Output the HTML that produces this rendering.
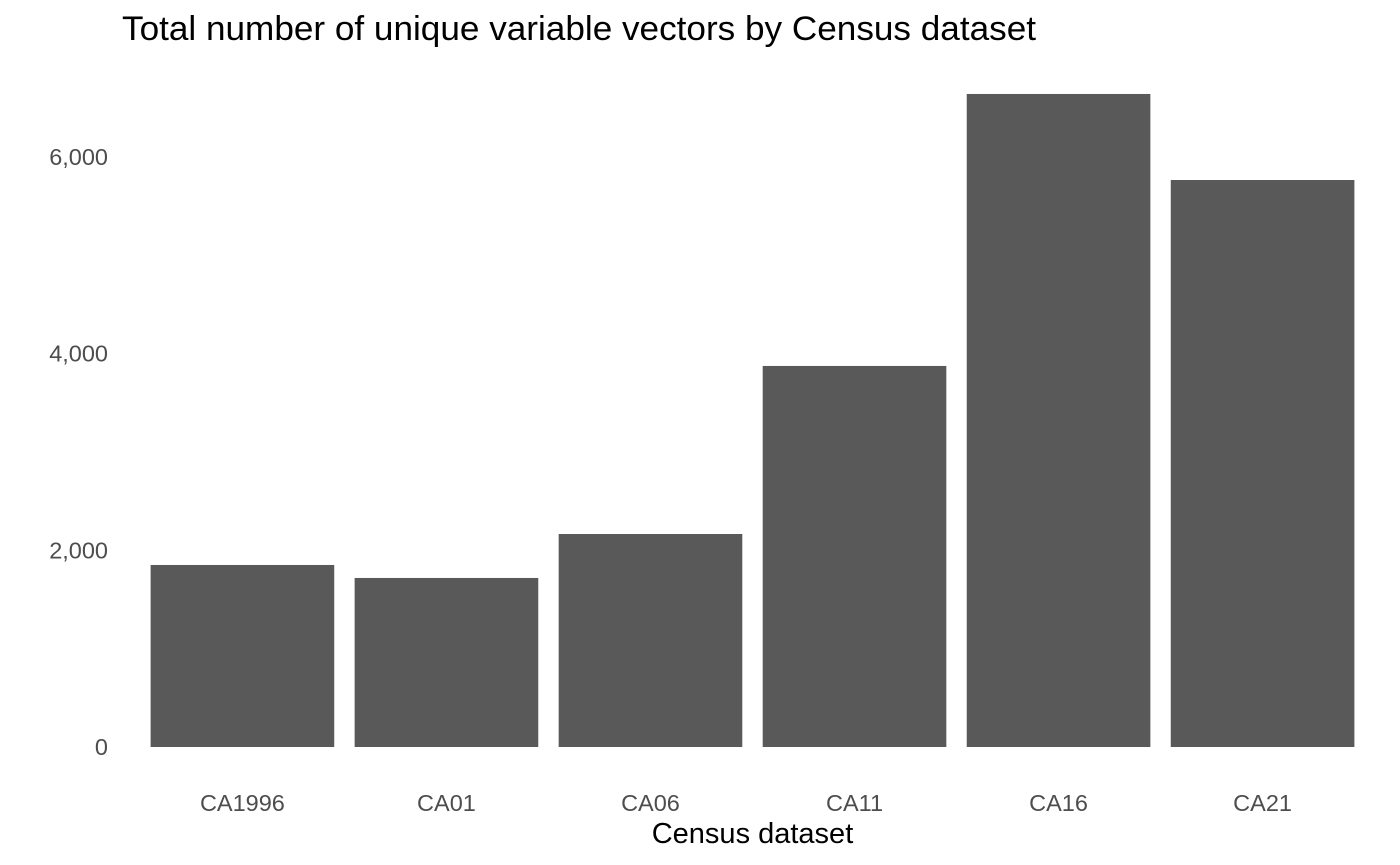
<!DOCTYPE html>
<html><head><meta charset="utf-8"><style>
html,body{margin:0;padding:0;background:#fff;}
svg{display:block;font-family:"Liberation Sans",Arial,sans-serif;}
</style></head><body>
<svg id="chart" width="1400" height="865" viewBox="0 0 1400 865">
<text x="122" y="40" font-size="34" fill="#000" textLength="914" lengthAdjust="spacingAndGlyphs">Total number of unique variable vectors by Census dataset</text>
<g id="yticks"></g>
<g id="bars"></g>
<g id="xticks"></g>
<text x="752.5" y="843" font-size="29" fill="#000" text-anchor="middle">Census dataset</text>
</svg>
<script>
const categories = ["CA1996","CA01","CA06","CA11","CA16","CA21"];
const values = [1851, 1719, 2166, 3875, 6641, 5766];
const yTicks = [0, 2000, 4000, 6000];
const yTickLabels = ["0","2,000","4,000","6,000"];

const NS = "http://www.w3.org/2000/svg";
const plotLeft = 120, plotRight = 1385;
const step = (plotRight - plotLeft) / (categories.length + 0.2);
function xCenter(i){ return plotLeft + step * (0.6 + i); }
function yScale(v){ return 747 - v * 0.098333; }

const yg = document.getElementById('yticks');
yTicks.forEach((t, i) => {
  const tx = document.createElementNS(NS, 'text');
  tx.setAttribute('x', 108);
  tx.setAttribute('y', yScale(t) + 8);
  tx.setAttribute('font-size', '23.5');
  tx.setAttribute('fill', '#4d4d4d');
  tx.setAttribute('text-anchor', 'end');
  tx.textContent = yTickLabels[i];
  
  
  yg.appendChild(tx);
});

const bg = document.getElementById('bars');
const xg = document.getElementById('xticks');
categories.forEach((c, i) => {
  const w = step * 0.9;
  const r = document.createElementNS(NS, 'rect');
  r.setAttribute('x', xCenter(i) - w / 2);
  r.setAttribute('y', yScale(values[i]));
  r.setAttribute('width', w);
  r.setAttribute('height', yScale(0) - yScale(values[i]));
  r.setAttribute('fill', '#595959');
  
  
  bg.appendChild(r);
  const tx = document.createElementNS(NS, 'text');
  tx.setAttribute('x', xCenter(i));
  tx.setAttribute('y', 811);
  tx.setAttribute('font-size', '23.5');
  tx.setAttribute('fill', '#4d4d4d');
  tx.setAttribute('text-anchor', 'middle');
  tx.textContent = c;
  
  
  xg.appendChild(tx);
});
</script>
</body></html>
